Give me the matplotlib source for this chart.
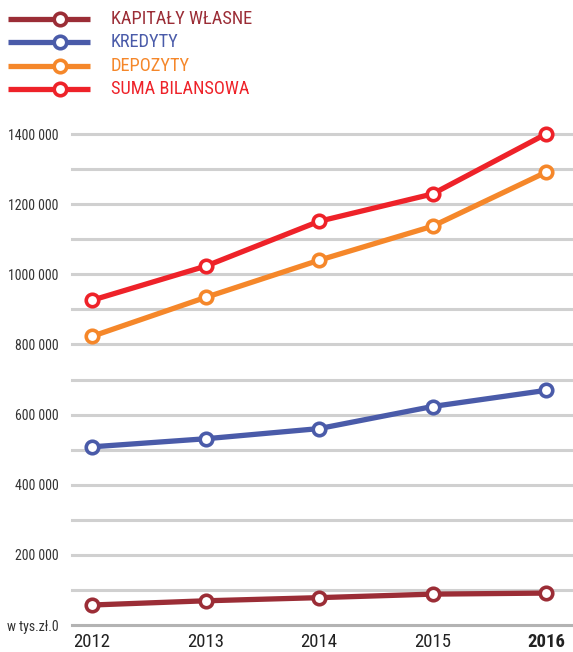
import matplotlib
matplotlib.use("Agg")
import matplotlib.pyplot as plt
from matplotlib.lines import Line2D

plt.rcParams['font.family'] = ['Roboto Condensed', 'DejaVu Sans']
plt.rcParams['font.stretch'] = 'condensed'

years = [2012, 2013, 2014, 2015, 2016]
kapitaly = [57000, 69000, 78000, 88000, 91000]
kredyty = [508000, 531000, 560000, 623000, 669000]
depozyty = [823000, 934000, 1040000, 1137000, 1291000]
suma = [926000, 1023000, 1151000, 1229000, 1400000]

names = ['KAPITAŁY WŁASNE', 'KREDYTY', 'DEPOZYTY', 'SUMA BILANSOWA']
colors = ['#9B2D36', '#4A5BA9', '#F5872A', '#EE2229']
series = [kapitaly, kredyty, depozyty, suma]

yticks = list(range(0, 1400001, 100000))
ylabels = {0: 'w tys.zł.0', 200000: '200 000', 400000: '400 000', 600000: '600 000',
           800000: '800 000', 1000000: '1000 000', 1200000: '1200 000', 1400000: '1400 000'}

W, H = 573, 652
fig = plt.figure(figsize=(W / 100, H / 100), dpi=100)
ax = fig.add_axes([72 / W, (H - 625) / H, 1 - 72 / W, (625 - 134) / H])

for t in yticks:
    c = '#B3B3B3' if t == 0 else '#D0D0D0'
    ax.axhline(t, color=c, lw=2.2, zorder=1, clip_on=False)

for vals, col in zip(series, colors):
    ax.plot(years, vals, color=col, lw=3.8, marker='o', ms=9, mfc='white',
            mec=col, mew=2.6, zorder=3, clip_on=False, solid_capstyle='butt')

ax.set_xlim(2012 - 20 / 113.5, 2016 + 27 / 113.5)
ax.set_ylim(0, 1400000)
ax.set_yticks(list(ylabels.keys()))
ax.set_yticklabels(list(ylabels.values()), fontsize=10, color='#333333')
ax.set_xticks(years)
ax.set_xticklabels([str(y) for y in years], fontsize=13.5, color='#222222')
ax.get_xticklabels()[-1].set_fontweight('bold')
ax.tick_params(axis='y', length=0, pad=9.5)
ax.tick_params(axis='x', length=0, pad=6)
for s in ax.spines.values():
    s.set_visible(False)

# legend drawn by hand
for i, (name, col) in enumerate(zip(names, colors)):
    y = 1 - (19 + i * 23.4) / H
    fig.add_artist(Line2D([8 / W, 90 / W], [y, y], color=col, lw=3.8, solid_capstyle='butt'))
    fig.add_artist(Line2D([60 / W], [y], marker='o', ms=9, mfc='white', mec=col, mew=2.6))
    fig.text(111 / W, y, name, color=col, fontsize=13.2, va='center', ha='left')

fig.savefig('out.png', dpi=100)
